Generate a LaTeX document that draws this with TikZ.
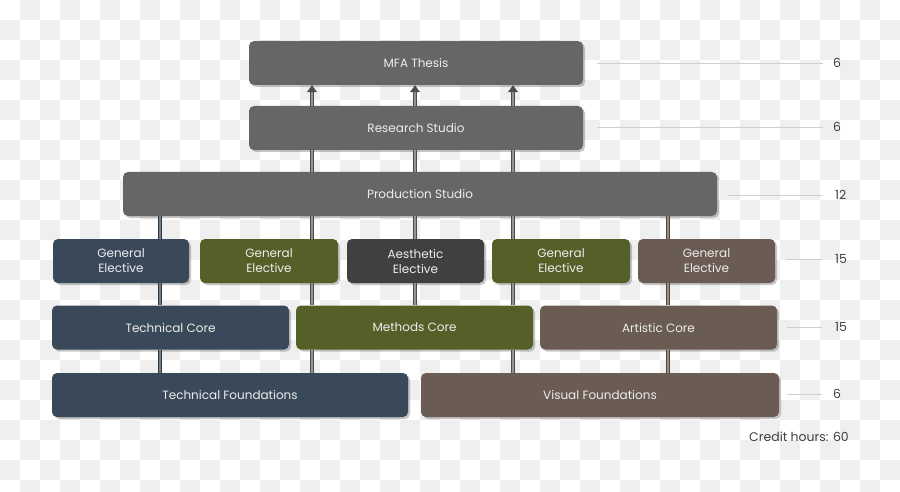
\documentclass[tikz,border=0pt]{standalone}
\usepackage{fontspec}
\setmainfont{Poppins}
\usetikzlibrary{arrows.meta}
\usetikzlibrary{shadows}
\definecolor{cinza}{HTML}{666666}
\definecolor{ardosia}{HTML}{394959}
\definecolor{oliva}{HTML}{555F28}
\definecolor{grafite}{HTML}{404040}
\definecolor{marrom}{HTML}{6A5C52}
\definecolor{xadrez}{HTML}{EFEFEF}
\definecolor{guia}{HTML}{D0D0D0}
\tikzset{
  bloco/.style={fill=#1, rounded corners=5pt, minimum height=44pt, inner sep=0pt,
    text=white!93!black, align=center, font=\fontsize{12}{15}\selectfont,
    drop shadow={shadow xshift=2pt, shadow yshift=-2pt, opacity=.45}},
  tubo/.style={line width=1pt, double distance=2.8pt, draw=#1!75!black, double=#1!70!white},
  tubo/.default=cinza,
  seta/.style={-{Triangle[length=7pt, width=10pt]}},
  linha/.style={draw=guia, line width=.8pt},
  horas/.style={anchor=west, inner sep=0pt, text=black!75, font=\fontsize{12.5}{14}\selectfont},
}

\begin{document}
\begin{tikzpicture}[x=1pt, y=-1pt]
  \useasboundingbox (0,0) rectangle (900,492);
  % fundo xadrez
  \foreach \j in {0,...,24}
    \foreach \i in {0,...,44} {
      \pgfmathtruncatemacro\paridade{mod(\i+\j,2)}
      \ifnum\paridade=1 \fill[xadrez] (\i*20,\j*20) rectangle ++(20,20); \fi
    }

  % colunas
  \coordinate (k1) at (160,0);
  \coordinate (k2) at (312,0);
  \coordinate (k3) at (415,0);
  \coordinate (k4) at (513,0);
  \coordinate (k5) at (668,0);

  \node[bloco=cinza, minimum width=334pt] (mfa) at (416,63) {MFA Thesis};
  \node[bloco=cinza, minimum width=334pt] (rs) at (416,128) {Research Studio};
  \node[bloco=cinza, minimum width=594pt] (ps) at (420,194) {Production Studio};

  \node[bloco=ardosia, minimum width=136pt] (ge1) at (121,261) {General\\Elective};
  \node[bloco=oliva, minimum width=138pt] (ge2) at (269,261) {General\\Elective};
  \node[bloco=grafite, minimum width=137pt] (ae) at (415.5,261) {Aesthetic\\Elective};
  \node[bloco=oliva, minimum width=138pt] (ge3) at (561,261) {General\\Elective};
  \node[bloco=marrom, minimum width=137pt] (ge4) at (706.5,261) {General\\Elective};

  \node[bloco=ardosia, minimum width=237pt] (tc) at (170.5,327.5) {Technical Core};
  \node[bloco=oliva, minimum width=237pt] (mc) at (414.5,327.5) {Methods Core};
  \node[bloco=marrom, minimum width=237pt] (ac) at (658.5,327.5) {Artistic Core};

  \node[bloco=ardosia, minimum width=356pt] (tf) at (230,395) {Technical Foundations};
  \node[bloco=marrom, minimum width=358pt] (vf) at (600,395) {Visual Foundations};

  % ligacoes
  \draw[tubo=ardosia] (tf.north -| k1) -- (tc.south -| k1);
  \draw[tubo=ardosia] (tc.north -| k1) -- (ge1.south -| k1);
  \draw[tubo=ardosia] (ge1.north -| k1) -- (ps.south -| k1);

  \draw[tubo] (tf.north -| k2) -- (mc.south -| k2);
  \draw[tubo] (mc.north -| k2) -- (ge2.south -| k2);
  \draw[tubo] (ge2.north -| k2) -- (ps.south -| k2);
  \draw[tubo] (ps.north -| k2) -- (rs.south -| k2);
  \draw[tubo, seta] (rs.north -| k2) -- (mfa.south -| k2);

  \draw[tubo] (mc.north -| k3) -- (ae.south -| k3);
  \draw[tubo] (ae.north -| k3) -- (ps.south -| k3);
  \draw[tubo] (ps.north -| k3) -- (rs.south -| k3);
  \draw[tubo, seta] (rs.north -| k3) -- (mfa.south -| k3);

  \draw[tubo] (vf.north -| k4) -- (mc.south -| k4);
  \draw[tubo] (mc.north -| k4) -- (ge3.south -| k4);
  \draw[tubo] (ge3.north -| k4) -- (ps.south -| k4);
  \draw[tubo] (ps.north -| k4) -- (rs.south -| k4);
  \draw[tubo, seta] (rs.north -| k4) -- (mfa.south -| k4);

  \draw[tubo=marrom] (vf.north -| k5) -- (ac.south -| k5);
  \draw[tubo=marrom] (ac.north -| k5) -- (ge4.south -| k5);
  \draw[tubo=marrom] (ge4.north -| k5) -- (ps.south -| k5);

  % horas de credito
  \node[horas] (n1) at (833,63) {6};
  \node[horas] (n2) at (833,127) {6};
  \node[horas] (n3) at (835,195) {12};
  \node[horas] (n4) at (835,259) {15};
  \node[horas] (n5) at (835,327) {15};
  \node[horas] (n6) at (833,394) {6};
  \draw[linha] ([xshift=14pt]mfa.east |- n1) -- ([xshift=-10pt]n1.west);
  \draw[linha] ([xshift=14pt]rs.east |- n2) -- ([xshift=-10pt]n2.west);
  \draw[linha] ([xshift=11pt]ps.east |- n3) -- ([xshift=-13pt]n3.west);
  \draw[linha] ([xshift=12pt]ge4.east |- n4) -- ([xshift=-13pt]n4.west);
  \draw[linha] ([xshift=10pt]ac.east |- n5) -- ([xshift=-13pt]n5.west);
  \draw[linha] ([xshift=8pt]vf.east |- n6) -- ([xshift=-11pt]n6.west);
  \node[horas, anchor=east] (tot) at (849,437) {Credit hours: 60};
\end{tikzpicture}
\end{document}
